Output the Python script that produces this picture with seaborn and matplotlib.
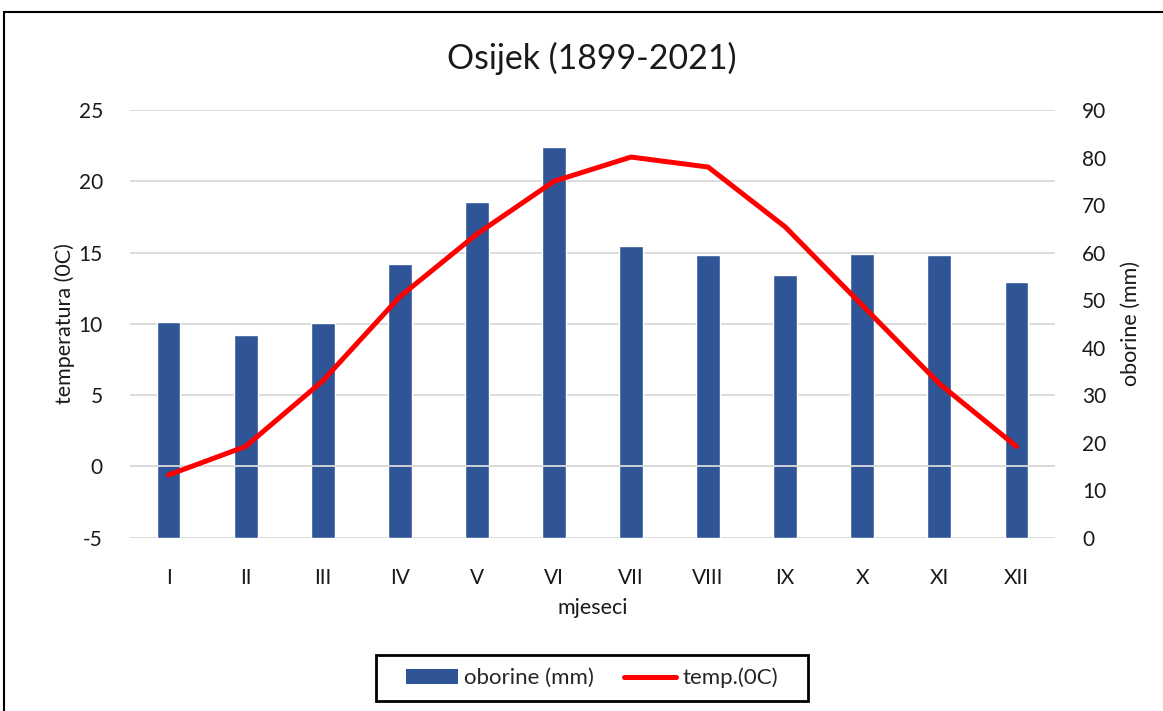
import matplotlib
matplotlib.use("Agg")
import matplotlib.pyplot as plt
import seaborn as sns
import pandas as pd
from matplotlib.patches import Rectangle, Patch
from matplotlib.lines import Line2D

# ---- data ----
months = ["I", "II", "III", "IV", "V", "VI", "VII", "VIII", "IX", "X", "XI", "XII"]
precip = [45.4, 42.6, 45.2, 57.6, 70.7, 82.2, 61.4, 59.4, 55.2, 59.6, 59.5, 53.9]
temp = [-0.6, 1.4, 6.0, 11.9, 16.3, 20.0, 21.7, 21.0, 16.8, 11.3, 5.8, 1.4]
temp_ticks = [-5, 0, 5, 10, 15, 20, 25]
precip_ticks = [0, 10, 20, 30, 40, 50, 60, 70, 80, 90]

title = "Osijek (1899-2021)"
xlabel = "mjeseci"
ylabel_left = "temperatura (0C)"
ylabel_right = "oborine (mm)"
label_precip = "oborine (mm)"
label_temp = "temp.(0C)"

df = pd.DataFrame({"mjesec": months, "oborine": precip, "temp": temp})

BAR = "#2F5597"
RED = "#FF0000"
GRID = "#D9D9D9"
TXT = "#1a1a1a"

sns.set_theme(style="white")
plt.rcParams["font.family"] = ["Lato", "DejaVu Sans"]
plt.rcParams["axes.unicode_minus"] = False

W, H = 1163, 711
fig = plt.figure(figsize=(W / 100, H / 100), dpi=100)
fig.patch.set_facecolor("white")

ax_t = fig.add_axes([130 / W, (H - 537.7) / H, 925 / W, 427.7 / H])
ax_p = ax_t.twinx()
ax_t.set_zorder(2)
ax_p.set_zorder(1)
ax_t.patch.set_visible(False)

# bars (precipitation, right axis)
sns.barplot(data=df, x="mjesec", y="oborine", ax=ax_p, color=BAR,
            width=0.31, saturation=1, zorder=2)

# gridlines of the temperature axis, drawn behind the bars
ax_p.hlines(temp_ticks, 0, 1, transform=ax_t.get_yaxis_transform(),
            color=GRID, lw=1.3, zorder=0)

# temperature line (left axis)
ax_t.axhline(0, color=GRID, lw=1.3, zorder=1)
sns.lineplot(data=df, x="mjesec", y="temp", ax=ax_t, color=RED, lw=3.6,
             sort=False, zorder=3)

ax_t.set_xlim(-0.5, 11.5)
ax_t.set_ylim(-5, 25)
ax_t.set_yticks(temp_ticks)
ax_p.set_ylim(0, 90)
ax_p.set_yticks(precip_ticks)

for a in (ax_t, ax_p):
    for s in a.spines.values():
        s.set_visible(False)
    a.grid(False)

FS = 15
ax_t.tick_params(axis="y", left=False, labelsize=FS, pad=13.5, labelcolor=TXT)
ax_p.tick_params(axis="y", right=False, labelsize=FS, pad=13.5, labelcolor=TXT)
ax_t.tick_params(axis="x", bottom=False, labelsize=FS, pad=16, labelcolor=TXT)
ax_p.tick_params(axis="x", bottom=False)

ax_t.set_xlabel(xlabel, fontsize=15.5, color=TXT)
ax_t.xaxis.set_label_coords(0.5, -0.142)
ax_t.set_ylabel(ylabel_left, fontsize=15.5, color=TXT)
ax_t.yaxis.set_label_coords(-0.0595, 0.5)
ax_p.set_ylabel(ylabel_right, fontsize=15.5, color=TXT)
ax_p.yaxis.set_label_coords(1.0714, 0.5)

fig.text(591.5 / W, 1 - 58 / H, title, ha="center", va="center",
         fontsize=24.4, color=TXT)

handles = [Patch(facecolor=BAR, edgecolor="none"),
           Line2D([], [], color=RED, lw=3.6, solid_capstyle="round")]
fig.legend(handles, [label_precip, label_temp], loc="center",
           bbox_to_anchor=(592 / W, 1 - 678 / H), ncol=2, frameon=False,
           fontsize=16, handlelength=2.35, handletextpad=0.27,
           columnspacing=1.35)
fig.patches.append(Rectangle((376 / W, (H - 701) / H), 432 / W, 46 / H,
                             transform=fig.transFigure, fill=False,
                             edgecolor="black", lw=2))
fig.patches.append(Rectangle((4 / W, -0.01), 1.1, (H - 12) / H + 0.01,
                             transform=fig.transFigure, fill=False,
                             edgecolor="black", lw=1.5))

fig.savefig("out.png", dpi=100)
